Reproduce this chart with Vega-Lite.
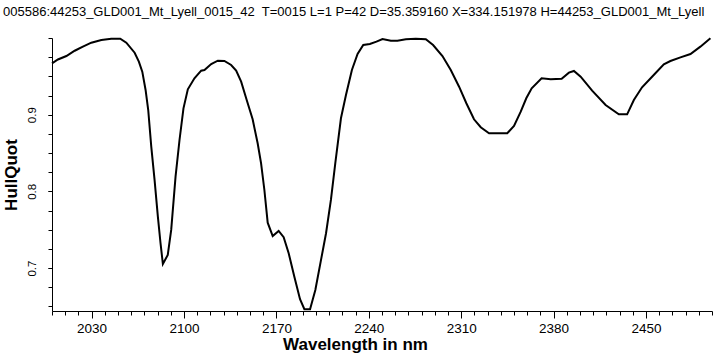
{
  "$schema": "https://vega.github.io/schema/vega-lite/v6.json",
  "width": 660,
  "height": 273,
  "autosize": {"type": "none"},
  "padding": {"left": 52, "top": 38, "right": 7, "bottom": 45},
  "background": "white",
  "title": {
    "text": "005586:44253_GLD001_Mt_Lyell_0015_42\u00a0 T=0015 L=1 P=42 D=35.359160 X=334.151978 H=44253_GLD001_Mt_Lyell",
    "anchor": "start",
    "frame": "group",
    "dx": -49,
    "dy": 17,
    "offset": 22,
    "baseline": "alphabetic",
    "font": "Liberation Sans",
    "fontSize": 13,
    "fontWeight": "normal",
    "color": "black"
  },
  "config": {
    "view": {"stroke": null},
    "axis": {
      "labelFont": "Liberation Sans",
      "titleFont": "Liberation Sans",
      "labelColor": "black",
      "titleColor": "black",
      "domainColor": "black",
      "tickColor": "black",
      "domainWidth": 1,
      "tickWidth": 1,
      "grid": false
    }
  },
  "data": {
    "values": [
      {"wavelength": 2000, "hq": 0.967},
      {"wavelength": 2004.5, "hq": 0.972},
      {"wavelength": 2010.9, "hq": 0.9765},
      {"wavelength": 2017.2, "hq": 0.9834},
      {"wavelength": 2023.4, "hq": 0.9887},
      {"wavelength": 2029.8, "hq": 0.9939},
      {"wavelength": 2037.4, "hq": 0.9974},
      {"wavelength": 2044.9, "hq": 0.9991},
      {"wavelength": 2051.7, "hq": 0.9991},
      {"wavelength": 2056.3, "hq": 0.9939},
      {"wavelength": 2062.6, "hq": 0.9808},
      {"wavelength": 2065.8, "hq": 0.9691},
      {"wavelength": 2068.4, "hq": 0.9561},
      {"wavelength": 2070.9, "hq": 0.9322},
      {"wavelength": 2072.9, "hq": 0.9061},
      {"wavelength": 2075.2, "hq": 0.8583},
      {"wavelength": 2077.7, "hq": 0.8149},
      {"wavelength": 2080.2, "hq": 0.767},
      {"wavelength": 2082.2, "hq": 0.7327},
      {"wavelength": 2084.0, "hq": 0.7053},
      {"wavelength": 2087.7, "hq": 0.7171},
      {"wavelength": 2090.3, "hq": 0.7497},
      {"wavelength": 2093.6, "hq": 0.8192},
      {"wavelength": 2096.6, "hq": 0.867},
      {"wavelength": 2099.6, "hq": 0.9083},
      {"wavelength": 2102.9, "hq": 0.9331},
      {"wavelength": 2107.9, "hq": 0.9475},
      {"wavelength": 2113.0, "hq": 0.9574},
      {"wavelength": 2115.5, "hq": 0.9583},
      {"wavelength": 2120.6, "hq": 0.9661},
      {"wavelength": 2125.6, "hq": 0.9704},
      {"wavelength": 2130.6, "hq": 0.97},
      {"wavelength": 2135.7, "hq": 0.9648},
      {"wavelength": 2139.5, "hq": 0.9574},
      {"wavelength": 2143.3, "hq": 0.943},
      {"wavelength": 2147.5, "hq": 0.9192},
      {"wavelength": 2152.0, "hq": 0.894},
      {"wavelength": 2155.8, "hq": 0.8627},
      {"wavelength": 2158.4, "hq": 0.8366},
      {"wavelength": 2160.9, "hq": 0.8018},
      {"wavelength": 2163.4, "hq": 0.7592},
      {"wavelength": 2167.2, "hq": 0.7418},
      {"wavelength": 2171.7, "hq": 0.7484},
      {"wavelength": 2175.5, "hq": 0.7402},
      {"wavelength": 2179.3, "hq": 0.7193},
      {"wavelength": 2183.6, "hq": 0.6888},
      {"wavelength": 2187.9, "hq": 0.6593},
      {"wavelength": 2191.2, "hq": 0.6463},
      {"wavelength": 2195.5, "hq": 0.6463},
      {"wavelength": 2199.5, "hq": 0.6714},
      {"wavelength": 2203.8, "hq": 0.7106},
      {"wavelength": 2207.6, "hq": 0.7454},
      {"wavelength": 2211.3, "hq": 0.7888},
      {"wavelength": 2214.6, "hq": 0.8366},
      {"wavelength": 2218.9, "hq": 0.8953},
      {"wavelength": 2222.7, "hq": 0.9257},
      {"wavelength": 2227.2, "hq": 0.9583},
      {"wavelength": 2231.5, "hq": 0.9791},
      {"wavelength": 2235.8, "hq": 0.9909},
      {"wavelength": 2240.8, "hq": 0.9922},
      {"wavelength": 2245.8, "hq": 0.9952},
      {"wavelength": 2250.4, "hq": 0.9987},
      {"wavelength": 2256.7, "hq": 0.9965},
      {"wavelength": 2261.7, "hq": 0.9965},
      {"wavelength": 2268.1, "hq": 0.9983},
      {"wavelength": 2275.6, "hq": 0.9991},
      {"wavelength": 2283.2, "hq": 0.9983},
      {"wavelength": 2288.7, "hq": 0.9909},
      {"wavelength": 2295.8, "hq": 0.9765},
      {"wavelength": 2302.1, "hq": 0.9583},
      {"wavelength": 2308.4, "hq": 0.9365},
      {"wavelength": 2313.9, "hq": 0.9149},
      {"wavelength": 2319.7, "hq": 0.894},
      {"wavelength": 2324.8, "hq": 0.8836},
      {"wavelength": 2331.1, "hq": 0.8758},
      {"wavelength": 2338.1, "hq": 0.8758},
      {"wavelength": 2344.9, "hq": 0.8758},
      {"wavelength": 2350.0, "hq": 0.8853},
      {"wavelength": 2355.1, "hq": 0.9039},
      {"wavelength": 2359.3, "hq": 0.9214},
      {"wavelength": 2363.4, "hq": 0.9344},
      {"wavelength": 2370.9, "hq": 0.9475},
      {"wavelength": 2377.8, "hq": 0.9462},
      {"wavelength": 2386.1, "hq": 0.9469},
      {"wavelength": 2391.6, "hq": 0.9548},
      {"wavelength": 2395.4, "hq": 0.957},
      {"wavelength": 2400.5, "hq": 0.9495},
      {"wavelength": 2409.2, "hq": 0.9313},
      {"wavelength": 2419.4, "hq": 0.9126},
      {"wavelength": 2429.4, "hq": 0.9005},
      {"wavelength": 2435.7, "hq": 0.9005},
      {"wavelength": 2440.8, "hq": 0.9192},
      {"wavelength": 2447.0, "hq": 0.9357},
      {"wavelength": 2454.6, "hq": 0.9495},
      {"wavelength": 2463.5, "hq": 0.9657},
      {"wavelength": 2468.5, "hq": 0.97},
      {"wavelength": 2476.1, "hq": 0.9748},
      {"wavelength": 2483.7, "hq": 0.9791},
      {"wavelength": 2491.2, "hq": 0.9887},
      {"wavelength": 2498.8, "hq": 0.9996}
    ]
  },
  "layer": [
    {
      "mark": {"type": "line", "opacity": 0},
      "encoding": {
        "x": {
          "field": "wavelength", "type": "quantitative",
          "scale": {"domain": [2000, 2500], "nice": false, "zero": false},
          "axis": {
            "orient": "bottom",
            "values": [2000, 2010, 2020, 2030, 2040, 2050, 2060, 2070, 2080, 2090, 2100, 2110, 2120, 2130, 2140, 2150, 2160, 2170, 2180, 2190, 2200, 2210, 2220, 2230, 2240, 2250, 2260, 2270, 2280, 2290, 2300, 2310, 2320, 2330, 2340, 2350, 2360, 2370, 2380, 2390, 2400, 2410, 2420, 2430, 2440, 2450, 2460, 2470, 2480, 2490, 2500],
            "labels": false, "domain": false, "tickSize": 4, "title": null
          }
        },
        "y": {
          "field": "hq", "type": "quantitative",
          "scale": {"domain": [0.644, 1.0], "nice": false, "zero": false},
          "axis": {
            "orient": "left",
            "values": [0.65, 0.675, 0.7, 0.725, 0.75, 0.775, 0.8, 0.825, 0.85, 0.875, 0.9, 0.925, 0.95, 0.975, 1.0],
            "labels": false, "domain": false, "tickSize": 4, "title": null
          }
        }
      }
    },
    {
      "mark": {"type": "line", "color": "black", "strokeWidth": 2},
      "encoding": {
        "x": {
          "field": "wavelength", "type": "quantitative",
          "scale": {"domain": [2000, 2500], "nice": false, "zero": false},
          "axis": {
            "orient": "bottom",
            "values": [2030, 2100, 2170, 2240, 2310, 2380, 2450],
            "format": "d",
            "tickSize": 7,
            "labelFontSize": 13.5,
            "labelBaseline": "alphabetic",
            "labelPadding": 14.7,
            "title": "Wavelength in nm",
            "titleFontSize": 17,
            "titleFontWeight": "bold",
            "titleBaseline": "alphabetic",
            "titleAlign": "center",
            "titleX": 303,
            "titleY": 38.5
          }
        },
        "y": {
          "field": "hq", "type": "quantitative",
          "scale": {"domain": [0.644, 1.0], "nice": false, "zero": false},
          "axis": {
            "orient": "left",
            "values": [0.7, 0.8, 0.9],
            "format": ".1f",
            "tickSize": 4,
            "labelFontSize": 11.5,
            "labelAngle": 270,
            "labelAlign": "center",
            "labelBaseline": "alphabetic",
            "labelPadding": 13,
            "title": "HullQuot",
            "titleFontSize": 17,
            "titleFontWeight": "bold",
            "titleAngle": 270,
            "titleBaseline": "alphabetic",
            "titleAlign": "center",
            "titleX": -36,
            "titleY": 136.5
          }
        }
      }
    }
  ],
  "resolve": {"axis": {"x": "independent", "y": "independent"}}
}
